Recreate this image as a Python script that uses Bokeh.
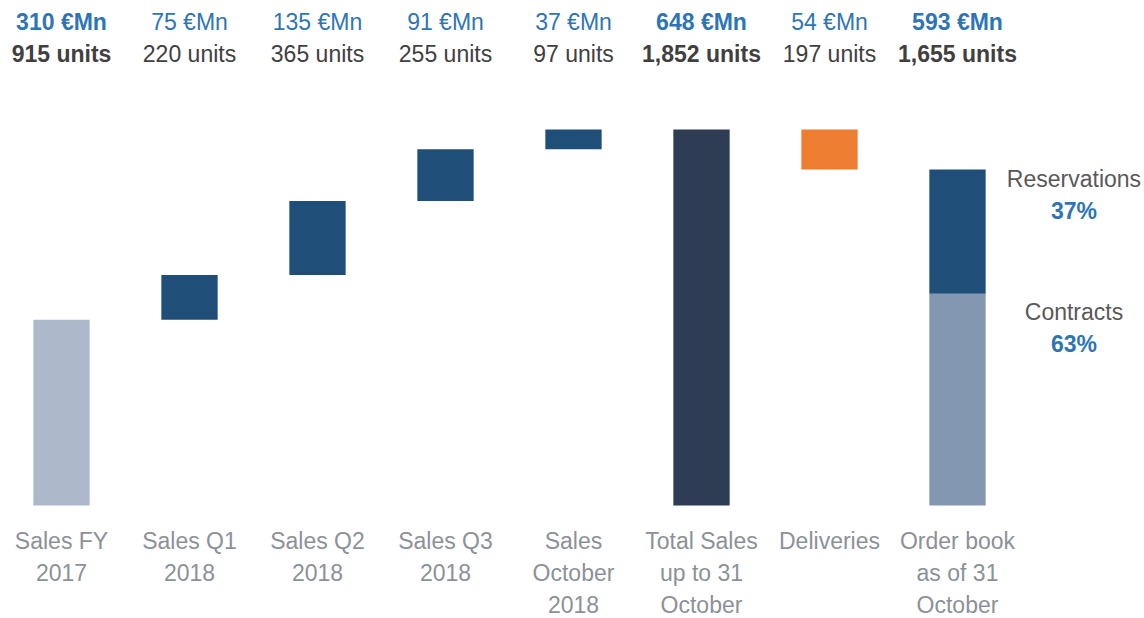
from bokeh.plotting import figure
from bokeh.models import ColumnDataSource, Range1d
from bokeh.core.properties import value
from bokeh.embed import file_html
from bokeh.resources import INLINE

# ---- data ----
categories = ["Sales FY\n2017", "Sales Q1\n2018", "Sales Q2\n2018", "Sales Q3\n2018",
              "Sales\nOctober\n2018", "Total Sales\nup to 31\nOctober", "Deliveries",
              "Order book\nas of 31\nOctober"]
units = [915, 220, 365, 255, 97, 1852, 197, 1655]
value_mn = [310, 75, 135, 91, 37, 648, 54, 593]
kind = ["base", "step", "step", "step", "step", "total", "minus", "total2"]
contracts_share = 0.63
reservations_share = 0.37

# ---- styles ----
FONT = value("Liberation Sans")
FS = "23px"
BLUE_TXT = "#2E75B6"
DARK_TXT = "#404040"
GRAY_TXT = "#8C9198"
colors = {"base": "#ADB9CA", "step": "#1F4E79", "total": "#2E3D54", "minus": "#ED7D31"}

# layout scale: pixels per unit and baseline pixel row
K = 0.20302
BASE_PX = 505
W, H = 1144, 618


def sy(px):
    """screen row -> data y"""
    return (BASE_PX - px) / K


# waterfall geometry from data
bottoms, tops, fills = [], [], []
running = 0
for u, k in zip(units, kind):
    if k == "base":
        b, t = 0, u
        running = u
    elif k == "step":
        b, t = running, running + u
        running += u
    elif k == "total":
        b, t = 0, u
        running = u
    elif k == "minus":
        b, t = running - u, running
        running -= u
    else:
        b, t = 0, u
    bottoms.append(b)
    tops.append(t)
    fills.append(colors.get(k, "#1F4E79"))

xs = list(range(len(categories)))

p = figure(width=W, height=H, output_backend="svg", toolbar_location=None,
           x_range=Range1d(-61 / 128.0, (W - 61) / 128.0),
           y_range=Range1d(sy(H), sy(0)),
           min_border=0, outline_line_color=None, background_fill_color="white",
           border_fill_color="white")
p.axis.visible = False
p.grid.visible = False

bars_idx = [i for i, k in enumerate(kind) if k != "total2"]
src = ColumnDataSource(dict(x=[xs[i] for i in bars_idx], b=[bottoms[i] for i in bars_idx],
                            t=[tops[i] for i in bars_idx], c=[fills[i] for i in bars_idx]))
p.vbar(x="x", bottom="b", top="t", width=0.44, fill_color="c", line_color=None, source=src)

# order book stacked bar
ob = kind.index("total2")
contracts = units[ob] * contracts_share
p.vbar(x=[xs[ob]], bottom=[0], top=[contracts], width=0.44, fill_color="#8497B0", line_color=None)
p.vbar(x=[xs[ob]], bottom=[contracts], top=[units[ob]], width=0.44, fill_color="#1F4E79", line_color=None)

# top labels
bold = [k in ("base", "total", "total2") for k in kind]
mn_txt = [f"{v} €Mn" for v in value_mn]
un_txt = [f"{u:,} units" for u in units]
for is_bold in (True, False):
    idx = [i for i in xs if bold[i] == is_bold]
    style = "bold" if is_bold else "normal"
    p.text(x=[xs[i] for i in idx], y=[sy(21)] * len(idx), text=[mn_txt[i] for i in idx],
           text_font=FONT, text_font_size=FS, text_font_style=style,
           text_color=BLUE_TXT, text_align="center", text_baseline="middle")
    p.text(x=[xs[i] for i in idx], y=[sy(53)] * len(idx), text=[un_txt[i] for i in idx],
           text_font=FONT, text_font_size=FS, text_font_style=style,
           text_color=DARK_TXT, text_align="center", text_baseline="middle")

# category labels, one line at a time
lx, ly, lt = [], [], []
for i, c in enumerate(categories):
    for j, line in enumerate(c.split("\n")):
        lx.append(xs[i])
        ly.append(sy(540 + 32 * j))
        lt.append(line)
p.text(x=lx, y=ly, text=lt, text_font=FONT, text_font_size=FS,
       text_color=GRAY_TXT, text_align="center", text_baseline="middle")

# right side labels
rx = xs[ob] + 0.91
p.text(x=[rx, rx], y=[sy(178), sy(311)], text=["Reservations", "Contracts"], text_font=FONT,
       text_font_size=FS, text_color="#595959", text_align="center", text_baseline="middle")
p.text(x=[rx, rx], y=[sy(210), sy(343)],
       text=[f"{round(reservations_share*100)}%", f"{round(contracts_share*100)}%"],
       text_font=FONT, text_font_size=FS, text_font_style="bold",
       text_color=BLUE_TXT, text_align="center", text_baseline="middle")

open("out.html", "w").write(file_html(p, INLINE))
